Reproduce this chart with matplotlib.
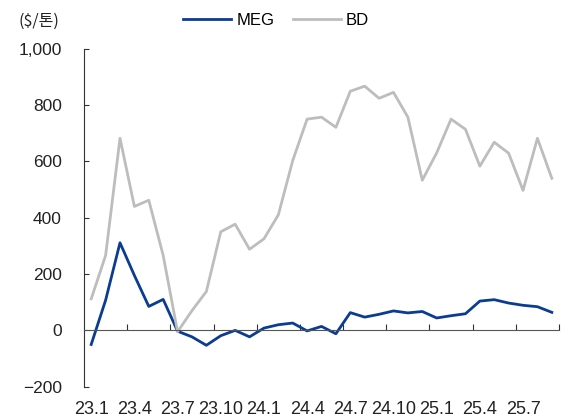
import numpy as np
import matplotlib
matplotlib.use('Agg')
import matplotlib.pyplot as plt
from matplotlib.ticker import FuncFormatter

plt.rcParams['font.family'] = ['Liberation Sans', 'Noto Sans CJK KR', 'DejaVu Sans']

# 월별 스프레드 (23.1 ~ 25.9)
months = [f'{y}.{m}' for y in (23, 24, 25) for m in range(1, 13)][:33]
meg = [-50, 107, 311, 195, 85, 110, -3, -23, -53, -19, 0, -23, 8, 20, 26, -2,
       14, -12, 63, 47, 57, 69, 62, 67, 44, 52, 59, 104, 109, 97, 89, 84, 64]
bd = [112, 266, 682, 440, 462, 266, -5, 70, 138, 350, 377, 288, 325, 410, 603,
      750, 757, 721, 849, 867, 824, 845, 757, 533, 630, 750, 714, 583, 668,
      629, 497, 682, 540]
tick_labels = ['23.1', '23.4', '23.7', '23.10', '24.1', '24.4', '24.7',
               '24.10', '25.1', '25.4', '25.7']

x = np.arange(len(months))

fig = plt.figure(figsize=(5.65, 4.2), dpi=100)
ax = fig.add_axes([0.1487, 0.0793, 0.8407, 0.8047])

ax.plot(x, meg, color='#0B3C93', lw=2.0, label='MEG')
ax.plot(x, bd, color='#BDBDBD', lw=2.0, label='BD')

ax.set_xlim(-0.5, len(months) - 0.5)
ax.set_ylim(-200, 1000)
ax.set_yticks(np.arange(-200, 1001, 200))
ax.yaxis.set_major_formatter(FuncFormatter(
    lambda v, p: f'{v:,.0f}'.replace('-', '\u2212')))

# 축 스타일
for s in ['top', 'right']:
    ax.spines[s].set_visible(False)
ax.spines['left'].set_color('#333333')
ax.spines['bottom'].set_color('#555555')
ax.spines['bottom'].set_position(('data', 0))

ax.tick_params(axis='y', direction='in', length=3.5, pad=16, labelsize=12.5,
               color='#333333', labelcolor='#222222')
ax.set_xticks(np.arange(2.5, len(months), 3))
ax.tick_params(axis='x', direction='in', length=4.5, labelbottom=False,
               color='#333333')

# 하단 라벨 (분기 첫 달)
sec = ax.secondary_xaxis(0)
sec.set_xticks(np.arange(0, len(months), 3))
sec.set_xticklabels(tick_labels)
sec.tick_params(length=0, pad=10, labelsize=13, labelcolor='#222222')
sec.spines['bottom'].set_visible(False)

fig.text(0.032, 0.95, '($/톤)', fontsize=11.5, va='center', color='#222222',
         family=['Noto Sans CJK KR', 'DejaVu Sans'])

ax.legend(loc='center', bbox_to_anchor=(0.404, 1.083), ncol=2, frameon=False,
          fontsize=12, handlelength=2.9, handletextpad=0.3, columnspacing=1.1)

fig.savefig('out.png', dpi=100)
